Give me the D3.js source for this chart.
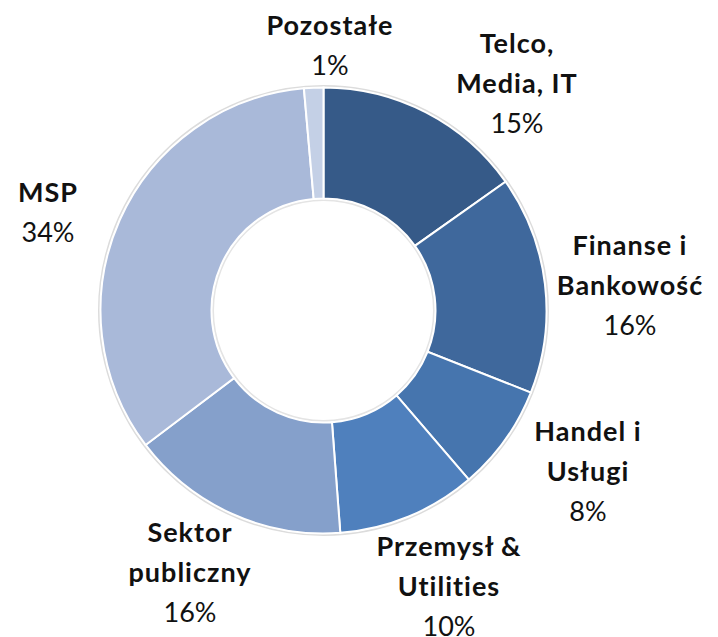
<!DOCTYPE html>
<html>

<head>
  <meta charset="utf-8">
  <title>donut</title>
  <script src="https://d3js.org/d3.v7.min.js"></script>
  <style>
    body { margin: 0; background: #fff; }
  </style>
</head>

<body>
  <svg width="718" height="637" id="mainsvg"></svg>
  <script>
    // sectors, clockwise from 12 o'clock
    const names = [
      ['Telco,', 'Media, IT'],
      ['Finanse i', 'Bankowość'],
      ['Handel i', 'Usługi'],
      ['Przemysł &', 'Utilities'],
      ['Sektor', 'publiczny'],
      ['MSP'],
      ['Pozostałe']
    ];
    const shares = [15.2, 15.8, 7.7, 10.1, 15.9, 33.9, 1.4];
    const colors = ['#365a88', '#3f689c', '#4675ae', '#4f80bd', '#85a0cb', '#a9b9d9', '#c4d0e6'];

    // label block anchors (center x, first baseline y)
    const labelPos = [[517, 53], [630, 255], [588, 441], [449, 556], [190, 542], [48, 202], [330, 35]];

    const svg = d3.select('#mainsvg');
    const cx = 323.5, cy = 310.5;
    const outerR = 223, innerR = 112;
    const lineH = 40;

    const g = svg.append('g').attr('transform', `translate(${cx},${cy})`);

    const pie = d3.pie().sort(null).value(d => d);
    const arc = d3.arc().innerRadius(innerR).outerRadius(outerR);

    // soft outline
    g.append('circle').attr('r', outerR + 1.5).attr('fill', 'none')
      .attr('stroke', '#dcdcdc').attr('stroke-width', 2);
    g.append('circle').attr('r', innerR - 1.5).attr('fill', 'none')
      .attr('stroke', '#e4e4e4').attr('stroke-width', 2);

    g.selectAll('path.slice')
      .data(pie(shares))
      .join('path')
      .attr('class', 'slice')
      .attr('d', arc)
      .attr('fill', (d, i) => colors[i])
      .attr('stroke', '#fff')
      .attr('stroke-width', 2);

    const labels = svg.append('g')
      .attr('font-family', 'Lato, "Open Sans", sans-serif')
      .attr('font-size', 27)
      .attr('fill', '#111')
      .attr('text-anchor', 'middle');

    names.forEach((lines, i) => {
      const t = labels.append('text')
        .attr('x', labelPos[i][0])
        .attr('y', labelPos[i][1]);
      lines.forEach((s, k) => {
        t.append('tspan')
          .attr('x', labelPos[i][0])
          .attr('dy', k === 0 ? 0 : lineH)
          .attr('font-weight', 'bold')
          .attr('letter-spacing', 1)
          .text(s);
      });
      t.append('tspan')
        .attr('x', labelPos[i][0])
        .attr('dy', lineH)
        .attr('font-weight', 'normal')
        .attr('letter-spacing', 0)
        .text(Math.round(shares[i]) + '%');
    });
  </script>
</body>

</html>
